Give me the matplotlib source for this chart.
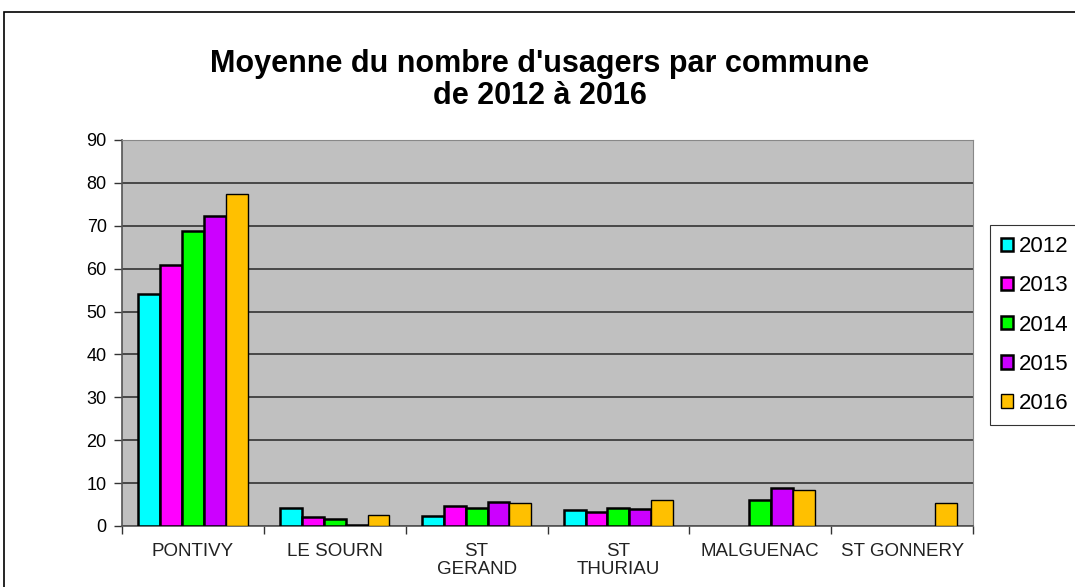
import numpy as np
import matplotlib
matplotlib.use("Agg")
import matplotlib.pyplot as plt
from matplotlib.patches import Rectangle

plt.rcParams['font.family'] = ['Liberation Sans', 'DejaVu Sans']

communes = ["PONTIVY", "LE SOURN", "ST\nGERAND", "ST\nTHURIAU", "MALGUENAC", "ST GONNERY"]
years = ["2012", "2013", "2014", "2015", "2016"]
v2012 = [54.1, 4.3, 2.3, 3.7, np.nan, np.nan]
v2013 = [60.9, 2.0, 4.6, 3.2, np.nan, np.nan]
v2014 = [68.8, 1.6, 4.3, 4.3, 6.1, np.nan]
v2015 = [72.3, 0.3, 5.7, 4.0, 8.9, np.nan]
v2016 = [77.3, 2.6, 5.3, 6.1, 8.3, 5.3]
colors = ["#00FFFF", "#FF00FF", "#00FF00", "#CC00FF", "#FFC000"]

series = [v2012, v2013, v2014, v2015, v2016]

fig = plt.figure(figsize=(10.75, 5.87), dpi=100)
ax = fig.add_axes([122/1075, 1 - 526/587, 851/1075, 386/587])
ax.set_facecolor("#C0C0C0")

x = np.arange(len(communes))
w = 0.154
for i, (vals, c) in enumerate(zip(series, colors)):
    lw = 1.0 if i == 4 else 1.8
    ax.bar(x + (i - 2) * w, vals, w, color=c, edgecolor="black", linewidth=lw,
           label=years[i], zorder=3)

ax.set_xlim(-0.5, len(communes) - 0.5)
ax.set_ylim(0, 90)
ax.set_yticks(range(0, 91, 10))
ax.yaxis.grid(True, color="#333333", linewidth=1.2, zorder=0)
ax.set_axisbelow(True)
ax.tick_params(axis='y', labelsize=13, length=6, direction='out', width=1,
               color="#333333", pad=5)

ax.set_xticks(x)
ax.set_xticklabels(communes, fontsize=13.5, linespacing=1.1, color="#222222")
ax.tick_params(axis='x', length=0, pad=12)
ax.set_xticks(np.arange(-0.5, len(communes), 1), minor=True)
ax.tick_params(axis='x', which='minor', length=6, color="#333333", width=1)

for s in ['top', 'right']:
    ax.spines[s].set_color("#888888")
for s in ['left', 'bottom']:
    ax.spines[s].set_color("#555555")
    ax.spines[s].set_linewidth(1.2)

fig.text(540/1075, 1 - 80/587, "Moyenne du nombre d'usagers par commune\nde 2012 à 2016",
         ha='center', va='center', fontsize=22, fontweight='bold', linespacing=1.05)

leg = fig.legend(loc='upper left', bbox_to_anchor=(990/1075, 1 - 225/587),
                 fontsize=16, frameon=True, fancybox=False, edgecolor="black",
                 handlelength=0.55, handleheight=0.55, handletextpad=0.25,
                 labelspacing=0.82, borderpad=0.5, borderaxespad=0)
leg.get_frame().set_linewidth(0.8)

fig.patches.append(Rectangle((4/1075, -0.1), 1.2, 1 - 12/587 + 0.1,
                             transform=fig.transFigure, fill=False,
                             edgecolor="black", linewidth=1.2))

fig.savefig("out.png", dpi=100)
